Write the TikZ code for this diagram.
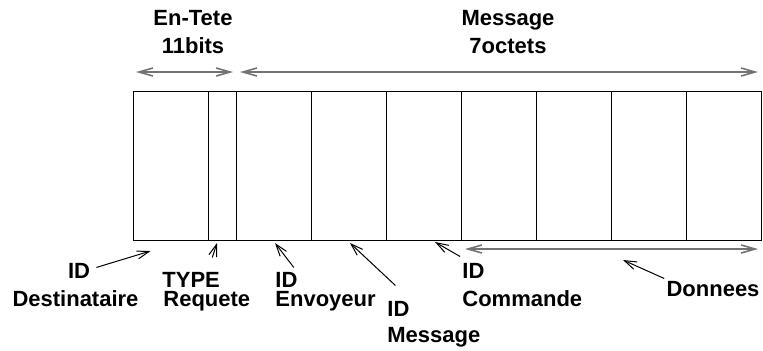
\documentclass[tikz,border=0pt]{standalone}
\usepackage{fontspec}
\setmainfont{Liberation Sans}
\usepackage{tikz}
\usetikzlibrary{positioning,arrows.meta,calc}

\begin{document}
\begin{tikzpicture}[
  x=0.5pt, y=-0.5pt,
  font=\fontsize{11}{12}\selectfont\bfseries,
  cell/.style={draw, line width=0.5pt, inner sep=0pt, outer sep=0pt, minimum height=74.5pt, minimum width=37.5pt},
  narrow/.style={cell, minimum width=14pt},
  lbl/.style={inner sep=0pt},
  arr/.style={-{Straight Barb[length=6pt, width=4pt]}, line width=0.5pt},
  span/.style={{Straight Barb[length=7pt, width=4pt]}-{Straight Barb[length=7pt, width=4pt]}, draw=black!55, line width=0.8pt},
  node distance=0pt]
\useasboundingbox (0,0) rectangle (763,350);
% trame
\node[cell] (c1) at (170.5,165.5) {};
\node[narrow, right=of c1] (c2) {};
\node[cell, right=of c2] (c3) {};
\node[cell, right=of c3] (c4) {};
\node[cell, right=of c4] (c5) {};
\node[cell, right=of c5] (c6) {};
\node[cell, right=of c6] (c7) {};
\node[cell, right=of c7] (c8) {};
\node[cell, right=of c8] (c9) {};
% titres
\node[lbl, anchor=base] (entete) at (193,25) {En-Tete};
\node[lbl, anchor=base] (bits) at (193,53) {11bits};
\node[lbl, anchor=base] (msg) at (508,25) {Message};
\node[lbl, anchor=base] (octets) at (508,53) {7octets};
\draw[span] ($(c1.north west)+(3,-19)$) -- ($(c2.north east)+(-3,-19)$);
\draw[span] ($(c3.north west)+(4,-19)$) -- ($(c9.north east)+(-3,-19)$);
\draw[span] ($(c6.south west)+(4,9)$) -- ($(c9.south east)+(-3,9)$);
% champs
\node[lbl, anchor=base] (destid) at (79,278) {ID};
\node[lbl, anchor=base] (destname) at (75.5,306) {Destinataire};
\node[lbl, anchor=base west] (typeid) at (162,287) {TYPE};
\node[lbl, anchor=base west] (typename) at (163,306) {Requete};
\node[lbl, anchor=base west] (envid) at (275,287) {ID};
\node[lbl, anchor=base west] (envname) at (275,306) {Envoyeur};
\node[lbl, anchor=base west] (msgid) at (387,316) {ID};
\node[lbl, anchor=base west] (msgname) at (387,342) {Message};
\node[lbl, anchor=base west] (cmdid) at (462,278) {ID};
\node[lbl, anchor=base west] (cmdname) at (462,306) {Commande};
\node[lbl, anchor=base] (donnees) at (713,296) {Donnees};
\coordinate (tdest) at ($(c1.south)+(-20,11)$);
\coordinate (ttype) at ($(c2.south)+(-5,3)$);
\coordinate (tenv) at ($(c3.south)+(1.5,3)$);
\coordinate (tmsg) at ($(c4.south)+(1.5,3)$);
\coordinate (tcmd) at ($(c5.south)+(11.5,2)$);
\coordinate (tdon) at ($(c8.south)+(-25.5,20)$);
\draw[arr] ([shift={(6,-3)}]destid.east) -- (tdest);
\draw[arr] ([shift={(-8,-14)}]typeid.north east) -- (ttype);
\draw[arr] ([shift={(-4,-4)}]envid.north east) -- (tenv);
\draw[arr] ([shift={(-3,-15)}]msgid.north) -- (tmsg);
\draw[arr] ([shift={(-2,-6)}]cmdid.north west) -- (tcmd);
\draw[arr] ([shift={(-2,-2)}]donnees.north west) -- (tdon);
\end{tikzpicture}
\end{document}
